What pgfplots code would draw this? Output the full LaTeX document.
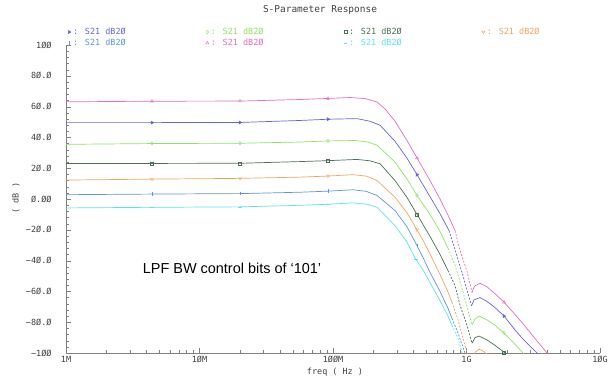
\documentclass[border=0pt]{standalone}
\usepackage{fontspec}
\setmainfont{DejaVu Sans Mono}
\newfontfamily\arialfont{Liberation Sans}
\usepackage{pgfplots}
\pgfplotsset{compat=1.18}
\definecolor{cblue}{RGB}{100,100,225}
\definecolor{cgreen}{RGB}{140,228,100}
\definecolor{cdkgreen}{RGB}{70,115,80}
\definecolor{corange}{RGB}{240,165,95}
\definecolor{cltblue}{RGB}{90,150,230}
\definecolor{cpink}{RGB}{228,110,190}
\definecolor{ccyan}{RGB}{90,228,240}
\begin{document}
\begin{tikzpicture}[x=1bp,y=1bp]
\begin{axis}[
  at={(0,0)}, anchor=south west,
  scale only axis, width=534bp, height=308bp,
  xmode=log, xmin=1e6, xmax=1e10, ymin=-100, ymax=100,
  axis lines=left, axis line style={gray,-},
  xtick={1e6,1e7,1e8,1e9,1e10},
  xticklabels={1M,1ØM,1ØØM,1G,1ØG},
  ytick={-100,-80,-60,-40,-20,0,20,40,60,80,100},
  yticklabels={−1ØØ,−8Ø.Ø,−6Ø.Ø,−4Ø.Ø,−2Ø.Ø,Ø.ØØ,2Ø.Ø,4Ø.Ø,6Ø.Ø,8Ø.Ø,1ØØ},
  minor y tick num=4,
  tick align=inside, major tick length=5bp, minor tick length=3bp,
  tick style={gray},
  ticklabel style={font=\fontsize{8.5}{10}\selectfont, text=black!75},
  yticklabel style={xshift=-11bp},
  legend columns=4,
  legend cell align=left,
  legend style={at={(0.004,1.062)}, anchor=north west, draw=none, fill=none,
    font=\fontsize{8.5}{9}\selectfont, row sep=-1bp, inner sep=0pt,
    /tikz/every even column/.append style={column sep=78bp}},
  legend image code/.code={\draw[mark repeat=2,mark phase=2,#1] plot coordinates {(0bp,0bp)(3bp,0bp)(6bp,0bp)};},
]
% ---------------- pink
\addplot[cpink, line width=0.7bp, forget plot] coordinates {
(1e6,63.1)(4.409e6,63.5)(2.011e7,63.6)(5.658e7,64.6)(9.173e7,65.3)(1.341e8,65.9)(1.737e8,65.2)
(2.136e8,63.0)(2.452e8,58.5)(2.913e8,50.5)(3.584e8,38.0)(4.258e8,26.6)(5.329e8,12.0)(6.332e8,0.0)
(7.268e8,-10.5)(8.202e8,-20.5)};
\addplot[cpink, line width=0.7bp, dash pattern=on 2bp off 1.5bp, forget plot] coordinates {
(8.202e8,-20.5)(8.941e8,-33.5)(1.009e9,-47)(1.100e9,-60.7)};
\addplot[cpink, line width=0.7bp, forget plot] coordinates {
(1.100e9,-60.7)(1.138e9,-57.3)(1.158e9,-56.3)(1.262e9,-54.8)(1.424e9,-57)(1.635e9,-61.5)(1.910e9,-67)
(2.308e9,-75)(2.650e9,-81)(3.149e9,-89)(4.009e9,-100)(4.3e9,-103)};
% ---------------- blue
\addplot[cblue, line width=0.7bp, forget plot] coordinates {
(1e6,49.6)(4.409e6,49.6)(2.011e7,49.7)(5.658e7,51.0)(9.173e7,51.8)(1.512e8,52.2)(1.893e8,50.5)
(2.250e8,47.9)(2.913e8,37.5)(3.584e8,26.5)(4.258e8,15.8)(5.329e8,1.5)(6.332e8,-9.5)(7.395e8,-20.5)};
\addplot[cblue, line width=0.7bp, dash pattern=on 2bp off 1.5bp, forget plot] coordinates {
(7.395e8,-20.5)(8.345e8,-35)(9.415e8,-50)(1.09e9,-69.4)};
\addplot[cblue, line width=0.7bp, forget plot] coordinates {
(1.09e9,-69.4)(1.138e9,-65.5)(1.262e9,-64)(1.424e9,-66.5)(1.635e9,-70.5)(1.910e9,-76)(2.308e9,-85)
(2.650e9,-91)(3.374e9,-100)(3.6e9,-103)};
% ---------------- green
\addplot[cgreen, line width=0.7bp, forget plot] coordinates {
(1e6,35.5)(4.409e6,36.0)(2.011e7,36.2)(5.658e7,37.0)(9.173e7,37.7)(1.461e8,38.0)(1.829e8,37.0)
(2.136e8,34.9)(2.913e8,24.0)(3.584e8,13.0)(4.258e8,2.3)(5.329e8,-10)(6.332e8,-21)(7.268e8,-32)};
\addplot[cgreen, line width=0.7bp, dash pattern=on 2bp off 1.5bp, forget plot] coordinates {
(7.268e8,-32)(8.202e8,-43)(9.254e8,-58)(1.100e9,-81.8)};
\addplot[cgreen, line width=0.7bp, forget plot] coordinates {
(1.100e9,-81.8)(1.158e9,-78)(1.241e9,-76)(1.424e9,-78.5)(1.635e9,-82)(1.910e9,-87)(2.230e9,-93)
(2.650e9,-100)(2.8e9,-103)};
% ---------------- dark green
\addplot[cdkgreen, line width=0.7bp, forget plot] coordinates {
(1e6,23.0)(4.409e6,23.1)(2.011e7,23.2)(5.658e7,24.3)(9.173e7,24.9)(1.512e8,25.7)(1.893e8,24.8)
(2.250e8,22.9)(2.913e8,12.0)(3.584e8,1.0)(4.258e8,-10.0)(5.329e8,-24.3)(6.332e8,-36.0)(7.268e8,-46.5)};
\addplot[cdkgreen, line width=0.7bp, dash pattern=on 2bp off 1.5bp, forget plot] coordinates {
(7.268e8,-46.5)(8.202e8,-56.3)(8.941e8,-69)(1.009e9,-82)(1.100e9,-93.7)};
\addplot[cdkgreen, line width=0.7bp, forget plot] coordinates {
(1.100e9,-93.7)(1.158e9,-90)(1.241e9,-89)(1.424e9,-91.5)(1.635e9,-95)(1.910e9,-99.5)(2.011e9,-100.5)};
% ---------------- orange
\addplot[corange, line width=0.7bp, forget plot] coordinates {
(1e6,12.3)(4.409e6,12.9)(2.011e7,13.4)(5.658e7,14.2)(9.173e7,14.9)(1.412e8,15.8)(1.797e8,14.8)
(2.136e8,12.0)(2.913e8,1.2)(3.584e8,-9.0)(4.258e8,-20.0)(4.805e8,-28.0)(5.329e8,-35.7)(6.332e8,-49.0)
(7.268e8,-60.5)(7.788e8,-67)};
\addplot[corange, line width=0.7bp, dash pattern=on 2bp off 1.5bp, forget plot] coordinates {
(7.788e8,-67)(8.638e8,-78.5)(9.254e8,-88)(1.009e9,-100)(1.09e9,-104)};
\addplot[corange, line width=0.7bp, forget plot] coordinates {
(1.09e9,-104)(1.16e9,-99.5)(1.241e9,-97.6)(1.329e9,-98.6)(1.449e9,-101.5)};
% ---------------- light blue
\addplot[cltblue, line width=0.7bp, forget plot] coordinates {
(1e6,2.8)(4.409e6,3.2)(2.011e7,3.5)(5.658e7,4.4)(9.173e7,5.1)(1.412e8,6.0)(1.767e8,5.0)
(2.136e8,2.3)(2.913e8,-7.5)(3.584e8,-18.0)(4.258e8,-30.3)(4.724e8,-38.0)(5.329e8,-47.7)(6.332e8,-60.0)
(7.268e8,-71.0)(7.788e8,-77.5)};
\addplot[cltblue, line width=0.7bp, dash pattern=on 2bp off 1.5bp, forget plot] coordinates {
(7.788e8,-77.5)(8.638e8,-87)(9.745e8,-100)(1.026e9,-106)};
% ---------------- cyan
\addplot[ccyan, line width=0.7bp, forget plot] coordinates {
(1e6,-5.8)(4.409e6,-5.4)(2.011e7,-5.1)(5.658e7,-4.1)(9.173e7,-3.4)(1.412e8,-2.5)(1.767e8,-3.3)
(2.136e8,-5.3)(2.913e8,-17.3)(3.584e8,-28.0)(4.185e8,-39.4)(4.724e8,-46.0)(5.329e8,-54.2)(6.332e8,-66.0)
(7.268e8,-76.0)(7.788e8,-82)};
\addplot[ccyan, line width=0.7bp, dash pattern=on 2bp off 1.5bp, forget plot] coordinates {
(7.788e8,-82)(8.638e8,-90.5)(9.254e8,-100)(9.745e8,-106)};
% ---------------- markers (legend order)
\addplot[cblue, only marks, mark=triangle*, mark options={rotate=-90}, mark size=1.8bp] coordinates {
(4.409e6,49.6)(2.011e7,49.7)(9.173e7,51.8)(4.258e8,15.8)(1.910e9,-76)};
\addlegendentry{\textcolor{cblue}{: S21 dB2Ø}}
\addplot[cgreen, only marks, mark=diamond, mark size=1.8bp] coordinates {
(4.409e6,36.0)(2.011e7,36.2)(9.173e7,37.7)(4.258e8,2.3)(1.910e9,-87)};
\addlegendentry{\textcolor{cgreen}{: S21 dB2Ø}}
\addplot[cdkgreen, only marks, mark=square, mark size=1.5bp] coordinates {
(4.409e6,23.1)(2.011e7,23.2)(9.173e7,24.9)(4.258e8,-10.0)(1.910e9,-99.5)};
\addlegendentry{\textcolor{cdkgreen}{: S21 dB2Ø}}
\addplot[corange, only marks, mark=triangle, mark options={rotate=180}, mark size=1.8bp] coordinates {
(4.409e6,12.9)(2.011e7,13.4)(9.173e7,14.9)(4.258e8,-20.0)};
\addlegendentry{\textcolor{corange}{: S21 dB2Ø}}
\addplot[cltblue, only marks, mark=|, mark size=1.8bp] coordinates {
(4.409e6,3.2)(2.011e7,3.5)(9.173e7,5.1)(4.258e8,-30.3)};
\addlegendentry{\textcolor{cltblue}{: S21 dB2Ø}}
\addplot[cpink, only marks, mark=triangle, mark size=1.8bp] coordinates {
(4.409e6,63.5)(2.011e7,63.6)(9.173e7,65.3)(4.258e8,26.6)(1.910e9,-67)};
\addlegendentry{\textcolor{cpink}{: S21 dB2Ø}}
\addplot[ccyan, only marks, mark=-, mark size=1.8bp] coordinates {
(4.409e6,-5.4)(2.011e7,-5.1)(9.173e7,-3.4)(4.185e8,-39.4)};
\addlegendentry{\textcolor{ccyan}{: S21 dB2Ø}}
\end{axis}
\node[font=\fontsize{9.5}{11}\selectfont, text=black!75] at (254,343) {S-Parameter Response};
\node[font=\fontsize{8.5}{10}\selectfont, text=black!75] at (269,-19) {freq ( Hz )};
\node[font=\fontsize{8.5}{10}\selectfont, text=black!75, rotate=90] at (-50,155) {( dB )};
\node[font=\arialfont\fontsize{14.5}{17}\selectfont] at (166,85) {LPF BW control bits of ‘101’};
\pgfresetboundingbox
\useasboundingbox (-66,-27) rectangle (545,353);
\end{tikzpicture}
\end{document}
